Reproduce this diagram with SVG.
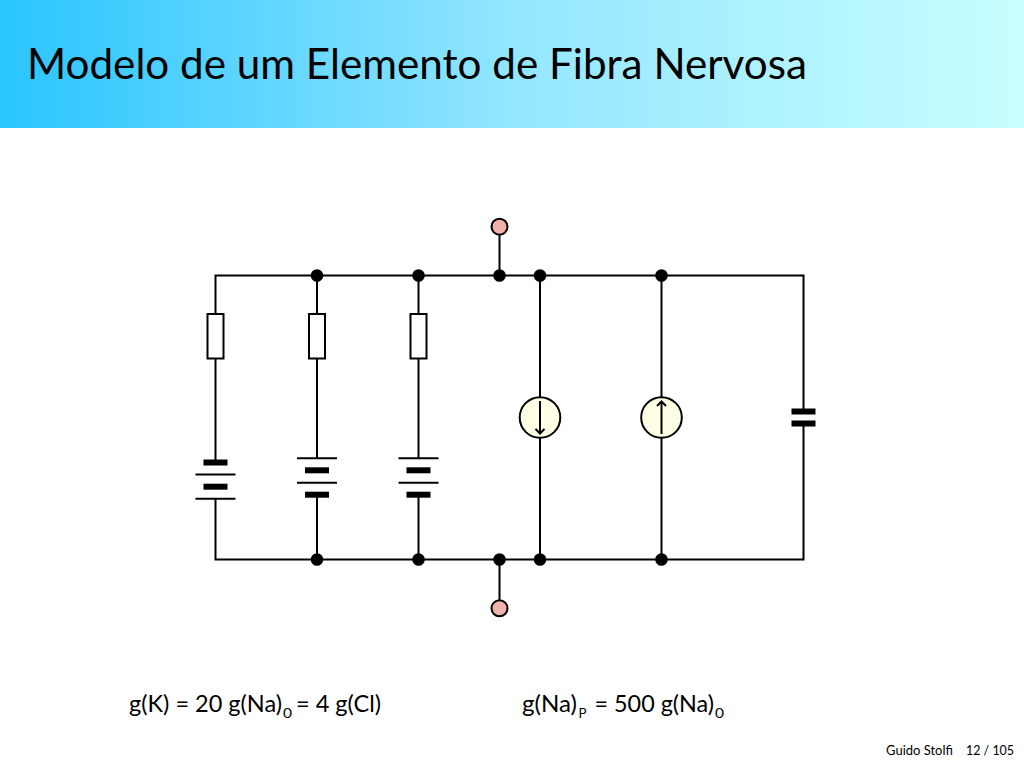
<svg xmlns="http://www.w3.org/2000/svg" width="1024" height="768" viewBox="0 0 1024 768">
<style>
.w{stroke:#000;stroke-width:2;fill:none}
.thin{stroke:#000;stroke-width:2;fill:none}
.plate{fill:#000}
.dot{fill:#000}
.res{fill:#fff;stroke:#000;stroke-width:2}
.src{fill:#ffffe6;stroke:#000;stroke-width:2}
.term{fill:#efb3ac;stroke:#000;stroke-width:2}
.arr{stroke:#000;stroke-width:2;fill:none}
text{font-family:Lato,"Open Sans","Liberation Sans",sans-serif;fill:#000}
.eq{font-size:23px}
.sub{font-size:14px}
.foot{font-size:13px}
</style>
<defs>
<linearGradient id="hdr" x1="0" y1="0" x2="1" y2="0">
<stop offset="0" stop-color="#2ac5ff"/>
<stop offset="0.5" stop-color="#93e6ff"/>
<stop offset="1" stop-color="#c8ffff"/>
</linearGradient>
</defs>
<rect width="1024" height="768" fill="#fff"/>
<rect id="header" width="1024" height="128" fill="url(#hdr)"/>
<text id="title" x="27" y="79" font-size="42" textLength="780" lengthAdjust="spacingAndGlyphs">Modelo de um Elemento de Fibra Nervosa</text>

<g id="connectors">
<path class="w" d="M215.500 314V275.500H803.500V411M215.500 358V462M215.500 499V559.500H803.500V424"/>
<path class="w" d="M317 275.500V314M317 358V458M317 495V559.500"/>
<path class="w" d="M418.500 275.500V314M418.500 358V458M418.500 495V559.500"/>
<path class="w" d="M499.500 235V275.500M499.500 559.500V600"/>
<path class="w" d="M540 275.500V397M540 438V559.500"/>
<path class="w" d="M661.500 275.500V397M661.500 438V559.500"/>
</g>

<g id="r1"><rect class="res" x="207.500" y="314" width="16" height="44.500"/></g>
<g id="r2"><rect class="res" x="309" y="314" width="16" height="44.500"/></g>
<g id="r3"><rect class="res" x="410.500" y="314" width="16" height="44.500"/></g>

<g id="bat1">
<rect class="plate" x="203.500" y="459.500" width="24" height="6"/>
<path class="thin" d="M195.500 474.500H235.500"/>
<rect class="plate" x="203.500" y="483.700" width="24" height="6"/>
<path class="thin" d="M195.500 498.700H235.500"/>
</g>
<g id="bat2">
<path class="thin" d="M297 458.300H337"/>
<rect class="plate" x="305" y="467.300" width="24" height="6"/>
<path class="thin" d="M297 482.700H337"/>
<rect class="plate" x="305" y="491.700" width="24" height="6"/>
</g>
<g id="bat3">
<path class="thin" d="M398.500 458.300H438.500"/>
<rect class="plate" x="406.500" y="467.300" width="24" height="6"/>
<path class="thin" d="M398.500 482.700H438.500"/>
<rect class="plate" x="406.500" y="491.700" width="24" height="6"/>
</g>

<g id="src1">
<circle class="src" cx="540" cy="417.500" r="20.300"/>
<path class="arr" d="M540 401V433M535.500 429L540 433.500L544.500 429"/>
</g>
<g id="src2">
<circle class="src" cx="661.500" cy="417.500" r="20.300"/>
<path class="arr" d="M661.500 434V402M657 406L661.500 401.500L666 406"/>
</g>
<g id="cap">
<rect class="plate" x="791.500" y="408.500" width="24" height="6"/>
<rect class="plate" x="791.500" y="420.500" width="24" height="6"/>
</g>

<g id="junctions">
<circle class="dot" cx="317" cy="275.500" r="6.300"/>
<circle class="dot" cx="418.500" cy="275.500" r="6.300"/>
<circle class="dot" cx="499.500" cy="275.500" r="6.300"/>
<circle class="dot" cx="540" cy="275.500" r="6.300"/>
<circle class="dot" cx="661.500" cy="275.500" r="6.300"/>
<circle class="dot" cx="317" cy="559.500" r="6.300"/>
<circle class="dot" cx="418.500" cy="559.500" r="6.300"/>
<circle class="dot" cx="499.500" cy="559.500" r="6.300"/>
<circle class="dot" cx="540" cy="559.500" r="6.300"/>
<circle class="dot" cx="661.500" cy="559.500" r="6.300"/>
</g>
<g id="t1"><circle class="term" cx="499.500" cy="226.700" r="8"/></g>
<g id="t2"><circle class="term" cx="499.500" cy="608.300" r="8"/></g>

<g id="labels">
<text class="eq" x="129" y="712" textLength="153" lengthAdjust="spacingAndGlyphs">g(K) = 20 g(Na)</text>
<text class="sub" x="283" y="718" textLength="9" lengthAdjust="spacingAndGlyphs">0</text>
<text class="eq" x="296" y="712" textLength="85" lengthAdjust="spacingAndGlyphs">= 4 g(Cl)</text>
<text class="eq" x="522" y="712" textLength="55" lengthAdjust="spacingAndGlyphs">g(Na)</text>
<text class="sub" x="578.500" y="718" textLength="8" lengthAdjust="spacingAndGlyphs">P</text>
<text class="eq" x="594.500" y="712" textLength="119.500" lengthAdjust="spacingAndGlyphs">= 500 g(Na)</text>
<text class="sub" x="715" y="718" textLength="9" lengthAdjust="spacingAndGlyphs">0</text>
</g>
<text class="foot" x="886" y="755" textLength="67" lengthAdjust="spacingAndGlyphs">Guido Stolfi</text>
<text class="foot" x="966" y="755" textLength="48" lengthAdjust="spacingAndGlyphs">12 / 105</text>
</svg>
